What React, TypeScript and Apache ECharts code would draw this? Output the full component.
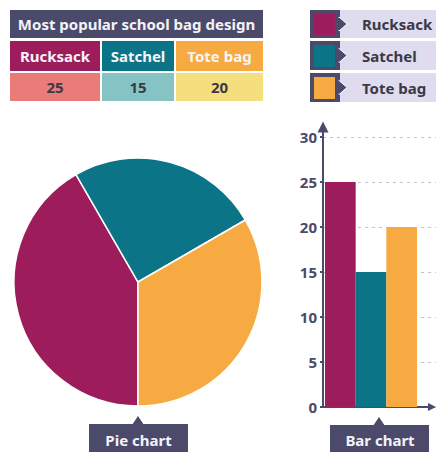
import React, { useEffect, useRef } from 'react';
import * as echarts from 'echarts';

const title = 'Most popular school bag design';
const categories = ['Rucksack', 'Satchel', 'Tote bag'];
const values = [25, 15, 20];
const yMin = 0;
const yMax = 30;
const yInterval = 5;
const mainColors = ['#9d1c5b', '#0b7487', '#f8aa42'];
const lightColors = ['#e97b78', '#86c3c5', '#f5de7e'];
const pieLabel = 'Pie chart';
const barLabel = 'Bar chart';

const DARK = '#4b4a6b';
const FONT = '"Noto Sans", "Open Sans", sans-serif';

export default function App() {
  const ref = useRef<HTMLDivElement>(null);
  useEffect(() => {
    if (!ref.current) return;
    const chart = echarts.init(ref.current, null, { renderer: 'svg' });

    const cellX = [
      [10, 100],
      [102, 174],
      [176, 263],
    ];
    const graphics: any[] = [];
    // table title
    graphics.push({
      type: 'rect',
      shape: { x: 10, y: 10, width: 253, height: 28 },
      style: { fill: DARK },
    });
    graphics.push({
      type: 'text',
      x: 136.5,
      y: 24,
      style: {
        text: title,
        fill: '#f2f2f7',
        font: `bold 15px ${FONT}`,
        textAlign: 'center',
        textVerticalAlign: 'middle',
      },
    });
    categories.forEach((c, i) => {
      const [x0, x1] = cellX[i];
      graphics.push({
        type: 'rect',
        shape: { x: x0, y: 41, width: x1 - x0, height: 30 },
        style: { fill: mainColors[i] },
      });
      graphics.push({
        type: 'text',
        x: (x0 + x1) / 2,
        y: 56,
        style: {
          text: c,
          fill: '#f5f5f8',
          font: `bold 15px ${FONT}`,
          textAlign: 'center',
          textVerticalAlign: 'middle',
        },
      });
      graphics.push({
        type: 'rect',
        shape: { x: x0, y: 73, width: x1 - x0, height: 28 },
        style: { fill: lightColors[i] },
      });
      graphics.push({
        type: 'text',
        x: (x0 + x1) / 2,
        y: 87,
        style: {
          text: String(values[i]),
          fill: '#3a3946',
          font: `bold 15px ${FONT}`,
          textAlign: 'center',
          textVerticalAlign: 'middle',
        },
      });
    });
    // legend
    const rowY = [
      [10, 38],
      [41, 70],
      [73, 102],
    ];
    categories.forEach((c, i) => {
      const [y0, y1] = rowY[i];
      const yc = (y0 + y1) / 2;
      graphics.push({
        type: 'rect',
        shape: { x: 340, y: y0, width: 96, height: y1 - y0 },
        style: { fill: '#dedcee' },
      });
      graphics.push({
        type: 'rect',
        shape: { x: 310, y: y0, width: 30, height: y1 - y0 },
        style: { fill: DARK },
      });
      graphics.push({
        type: 'polygon',
        shape: { points: [[339, yc - 7], [347, yc], [339, yc + 7]] },
        style: { fill: DARK, stroke: '#ffffff', lineWidth: 1 },
      });
      graphics.push({
        type: 'rect',
        shape: { x: 338, y: yc - 6, width: 2, height: 12 },
        style: { fill: DARK },
      });
      graphics.push({
        type: 'rect',
        shape: { x: 314, y: y0 + 4, width: 21, height: y1 - y0 - 7 },
        style: { fill: mainColors[i] },
      });
      graphics.push({
        type: 'text',
        x: 362,
        y: yc,
        style: {
          text: c,
          fill: '#3a3946',
          font: `bold 15px ${FONT}`,
          textAlign: 'left',
          textVerticalAlign: 'middle',
        },
      });
    });
    // pie label
    graphics.push({
      type: 'polygon',
      shape: { points: [[132, 425], [138, 416], [144, 425]] },
      style: { fill: DARK },
    });
    graphics.push({
      type: 'rect',
      shape: { x: 89, y: 424, width: 99, height: 28 },
      style: { fill: DARK },
    });
    graphics.push({
      type: 'text',
      x: 138.5,
      y: 440,
      style: {
        text: pieLabel,
        fill: '#f2f2f7',
        font: `bold 15px ${FONT}`,
        textAlign: 'center',
        textVerticalAlign: 'middle',
      },
    });
    // bar label
    graphics.push({
      type: 'polygon',
      shape: { points: [[373, 426], [379, 417], [385, 426]] },
      style: { fill: DARK },
    });
    graphics.push({
      type: 'rect',
      shape: { x: 330, y: 425, width: 99, height: 27 },
      style: { fill: DARK },
    });
    graphics.push({
      type: 'text',
      x: 380,
      y: 440,
      style: {
        text: barLabel,
        fill: '#f2f2f7',
        font: `bold 15px ${FONT}`,
        textAlign: 'center',
        textVerticalAlign: 'middle',
      },
    });

    chart.setOption({
      animation: false,
      textStyle: { fontFamily: FONT },
      grid: [
        // axis lines with arrows
        { left: 323, right: 4, top: 127, bottom: 45 },
        // y labels and split lines
        { left: 323, right: 0, top: 137, bottom: 45 },
        // bars
        { left: 325, width: 92, top: 137, bottom: 45 },
      ],
      xAxis: [
        {
          gridIndex: 0,
          type: 'value',
          min: 0,
          max: 1,
          axisLine: {
            show: true,
            symbol: ['none', 'triangle'],
            symbolSize: [8, 8],
            lineStyle: { color: DARK, width: 2 },
          },
          axisTick: { show: false },
          axisLabel: { show: false },
          splitLine: { show: false },
        },
        {
          gridIndex: 1,
          type: 'value',
          min: 0,
          max: 1,
          show: false,
        },
        {
          gridIndex: 2,
          type: 'category',
          data: categories,
          show: false,
        },
      ],
      yAxis: [
        {
          gridIndex: 0,
          type: 'value',
          min: 0,
          max: 1,
          axisLine: {
            show: true,
            symbol: ['none', 'triangle'],
            symbolSize: [11, 11],
            lineStyle: { color: DARK, width: 2 },
          },
          axisTick: { show: false },
          axisLabel: { show: false },
          splitLine: { show: false },
        },
        {
          gridIndex: 1,
          type: 'value',
          min: yMin,
          max: yMax,
          interval: yInterval,
          axisLine: { show: false },
          axisTick: {
            show: true,
            length: 3,
            lineStyle: { color: DARK, width: 2 },
          },
          axisLabel: {
            show: true,
            margin: 6,
            color: DARK,
            fontWeight: 'bold',
            fontSize: 15,
            fontFamily: FONT,
          },
          splitLine: {
            show: true,
            lineStyle: { color: '#b9c3d6', type: [3, 4], width: 1 },
          },
        },
        {
          gridIndex: 2,
          type: 'value',
          min: yMin,
          max: yMax,
          show: false,
        },
      ],
      series: [
        {
          type: 'pie',
          center: [138, 282],
          radius: 124,
          startAngle: -90,
          clockwise: true,
          label: { show: false },
          labelLine: { show: false },
          emphasis: { disabled: true },
          itemStyle: { borderColor: '#ffffff', borderWidth: 1.5 },
          data: categories.map((c, i) => ({
            name: c,
            value: values[i],
            itemStyle: { color: mainColors[i] },
          })),
        },
        {
          type: 'bar',
          xAxisIndex: 2,
          yAxisIndex: 2,
          barWidth: '100%',
          barCategoryGap: '0%',
          data: values.map((v, i) => ({
            value: v,
            itemStyle: { color: mainColors[i] },
          })),
        },
      ],
      graphic: graphics,
    });
    return () => chart.dispose();
  }, []);
  return (
    <div
      ref={ref}
      style={{ position: 'fixed', left: 0, top: 0, width: 436, height: 452, background: '#ffffff' }}
    />
  );
}
